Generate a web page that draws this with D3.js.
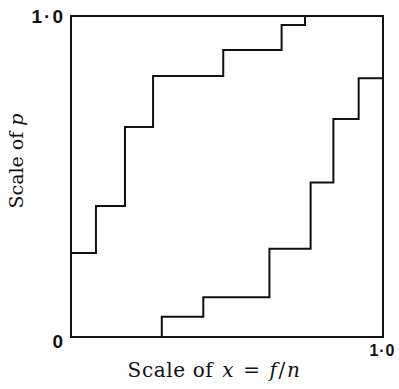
<!DOCTYPE html>
<html>
<head>
<meta charset="utf-8">
<script src="https://cdn.jsdelivr.net/npm/d3@7"></script>
<style>
  body { margin: 0; background: #fff; }
  .tick-lab { font-family: "Liberation Sans", sans-serif; font-weight: bold; fill: #111; }
  .ax-title { font-family: "DejaVu Serif", serif; fill: #111; }
</style>
</head>
<body>
<div id="chart"></div>
<script>
// upper limit: p holds from upperX[i] until upperX[i+1]
const upperX = [0, 0.080, 0.173, 0.263, 0.488, 0.675, 0.75];
const upperP = [0.262, 0.408, 0.654, 0.813, 0.894, 0.972, 1.0];
// lower limit: p steps up to lowerP[i] at lowerX[i-1], holds until lowerX[i]
const lowerX = [0.291, 0.424, 0.636, 0.768, 0.841, 0.922, 1.0];
const lowerP = [0, 0.063, 0.124, 0.275, 0.481, 0.679, 0.806];
const yTicks = [0, 1];
const xTicks = [1];
const tickLabel = d => d === 0 ? '0' : '1\u00b70';

const W = 399, H = 389;
const margin = { top: 16, right: 16, bottom: 52, left: 71 };
const width = W - margin.left - margin.right;
const height = H - margin.top - margin.bottom;

const svg = d3.select('#chart').append('svg')
  .attr('width', W)
  .attr('height', H);

const g = svg.append('g')
  .attr('transform', `translate(${margin.left},${margin.top})`);

const x = d3.scaleLinear().domain([0, 1]).range([0, width]);
const y = d3.scaleLinear().domain([0, 1]).range([height, 0]);

// frame
g.append('rect')
  .attr('x', x(0)).attr('y', y(1))
  .attr('width', x(1) - x(0)).attr('height', y(0) - y(1))
  .attr('fill', 'none').attr('stroke', '#111').attr('stroke-width', 2);

const upper = upperX.map((d, i) => [d, upperP[i]]);
const lower = lowerX.map((d, i) => [d, lowerP[i]]);

g.append('path')
  .datum(upper)
  .attr('fill', 'none').attr('stroke', '#111').attr('stroke-width', 2)
  .attr('d', d3.line().x(d => x(d[0])).y(d => y(d[1])).curve(d3.curveStepAfter));

g.append('path')
  .datum(lower)
  .attr('fill', 'none').attr('stroke', '#111').attr('stroke-width', 2)
  .attr('d', d3.line().x(d => x(d[0])).y(d => y(d[1])).curve(d3.curveStepBefore));

// axes: only the end labels
const yAxis = g.append('g')
  .call(d3.axisLeft(y).tickValues(yTicks).tickSize(0).tickPadding(6).tickFormat(tickLabel));
yAxis.select('.domain').remove();
yAxis.selectAll('text').attr('class', 'tick-lab').attr('font-size', 19)
  .attr('letter-spacing', 2).attr('dy', (d) => d === 0 ? '0.55em' : '0.35em');

const xAxis = g.append('g')
  .attr('transform', `translate(0,${height})`)
  .call(d3.axisBottom(x).tickValues(xTicks).tickSize(0).tickPadding(8).tickFormat(tickLabel));
xAxis.select('.domain').remove();
xAxis.selectAll('text').attr('class', 'tick-lab').attr('font-size', 16)
  .attr('letter-spacing', 1).attr('text-anchor', 'end').attr('dx', 12);

// titles
const xt = svg.append('text')
  .attr('class', 'ax-title')
  .attr('x', 214).attr('y', 377)
  .attr('text-anchor', 'middle')
  .attr('font-size', 20)
  .attr('letter-spacing', 0.6);
xt.append('tspan').text('Scale of');
xt.append('tspan').attr('dx', 9).attr('font-style', 'italic').text('x');
xt.append('tspan').attr('dx', 9).text('=');
xt.append('tspan').attr('dx', 9).attr('font-style', 'italic').text('f');
xt.append('tspan').attr('dx', 1).text('/');
xt.append('tspan').attr('dx', 1).attr('font-style', 'italic').text('n');

const yt = svg.append('text')
  .attr('class', 'ax-title')
  .attr('transform', 'translate(23,161) rotate(-90)')
  .attr('text-anchor', 'middle')
  .attr('font-size', 19);
yt.append('tspan').text('Scale of ');
yt.append('tspan').attr('font-style', 'italic').text('p');
</script>
</body>
</html>
